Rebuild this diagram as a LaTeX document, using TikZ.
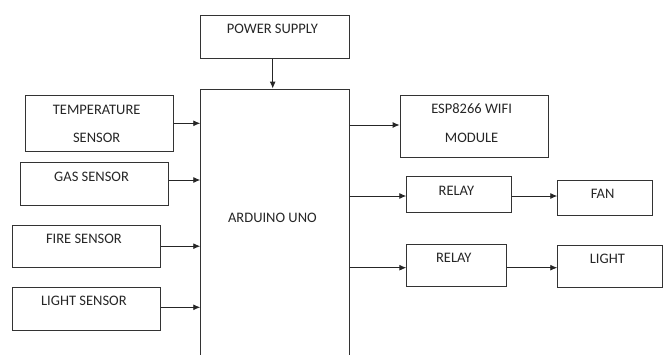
\documentclass[tikz,border=0pt]{standalone}
\usepackage{fontspec}
\setmainfont{Carlito}
\usetikzlibrary{arrows.meta}
\begin{document}
\begin{tikzpicture}[x=1pt, y=-1pt]
  \tikzstyle{block}=[rectangle, draw=black!80, line width=0.9pt, inner sep=0pt]
  \tikzstyle{blocktext}=[anchor=north, inner sep=0pt, align=center, text=black!85, font=\fontsize{14.5}{28.3}\selectfont]
  \tikzstyle{link}=[-{Latex[length=7pt, width=6pt]}, line width=0.9pt, draw=black!85]
    \useasboundingbox (0,0) rectangle (667,354);
    \clip (0,0) rectangle (667,354);
    % blocks
    \node[block, minimum width=148.6pt, minimum height=42.7pt] (PS) at (275,36.7) {};
    \node[block, minimum width=148.6pt, minimum height=291pt] (ARD) at (275,234.5) {};
    \node[block, minimum width=148pt, minimum height=55.3pt] (TS) at (99.3,123.3) {};
    \node[block, minimum width=148.3pt, minimum height=42.6pt] (GS) at (94.2,184) {};
    \node[block, minimum width=148.4pt, minimum height=42.3pt] (FS) at (86.5,246.2) {};
    \node[block, minimum width=148.4pt, minimum height=43pt] (LS) at (86.5,308.8) {};
    \node[block, minimum width=148.3pt, minimum height=61.3pt] (ESP) at (474.2,126.4) {};
    \node[block, minimum width=104.6pt, minimum height=35.3pt] (R1) at (459,194.4) {};
    \node[block, minimum width=95pt, minimum height=35pt] (FAN) at (605.2,197.5) {};
    \node[block, minimum width=99.3pt, minimum height=42.7pt] (R2) at (456.4,265.4) {};
    \node[block, minimum width=104.6pt, minimum height=42.4pt] (LT) at (610,266.5) {};
    % texts
    \node[blocktext] (PSt) at ([xshift=-2.6pt, yshift=-9.4pt]PS.north) {POWER SUPPLY};
    \node[blocktext, anchor=center] (ARDt) at ([xshift=-2.6pt, yshift=16.8pt]ARD.center) {ARDUINO UNO};
    \node[blocktext] (TSt) at ([xshift=-2.6pt, yshift=-9.4pt]TS.north) {TEMPERATURE\\SENSOR};
    \node[blocktext] (GSt) at ([xshift=-2.6pt, yshift=-9.4pt]GS.north) {GAS SENSOR};
    \node[blocktext] (FSt) at ([xshift=-2.6pt, yshift=-9.4pt]FS.north) {FIRE SENSOR};
    \node[blocktext] (LSt) at ([xshift=-2.6pt, yshift=-9.4pt]LS.north) {LIGHT SENSOR};
    \node[blocktext] (ESPt) at ([xshift=-2.6pt, yshift=-8.4pt]ESP.north) {ESP8266 WIFI\\MODULE};
    \node[blocktext] (R1t) at ([xshift=-2.6pt, yshift=-9.4pt]R1.north) {RELAY};
    \node[blocktext] (FANt) at ([xshift=-2.6pt, yshift=-9.6pt]FAN.north) {FAN};
    \node[blocktext] (R2t) at ([xshift=-2.6pt, yshift=-9.6pt]R2.north) {RELAY};
    \node[blocktext] (LTt) at ([xshift=-2.6pt, yshift=-9.4pt]LT.north) {LIGHT};
    % links
    \draw[link] ([xshift=-2.3pt]PS.south) -- ([xshift=-2.3pt]PS.south |- ARD.north);
    \draw[link] (TS.east) -- (TS.east -| ARD.west);
    \draw[link] ([yshift=4pt]GS.east) -- ([yshift=4pt]GS.east -| ARD.west);
    \draw[link] (FS.east) -- (FS.east -| ARD.west);
    \draw[link] ([yshift=1.5pt]LS.east) -- ([yshift=1.5pt]LS.east -| ARD.west);
    \draw[link] ([yshift=1.4pt]ESP.west -| ARD.east) -- ([yshift=1.4pt]ESP.west);
    \draw[link] ([yshift=-1.6pt]R1.west -| ARD.east) -- ([yshift=-1.6pt]R1.west);
    \draw[link] ([yshift=-1.6pt]R1.east) -- ([yshift=-1.6pt]R1.east -| FAN.west);
    \draw[link] ([yshift=-2.3pt]R2.west -| ARD.east) -- ([yshift=-2.3pt]R2.west);
    \draw[link] ([yshift=-2.3pt]R2.east) -- ([yshift=-2.3pt]R2.east -| LT.west);
\end{tikzpicture}
\end{document}
